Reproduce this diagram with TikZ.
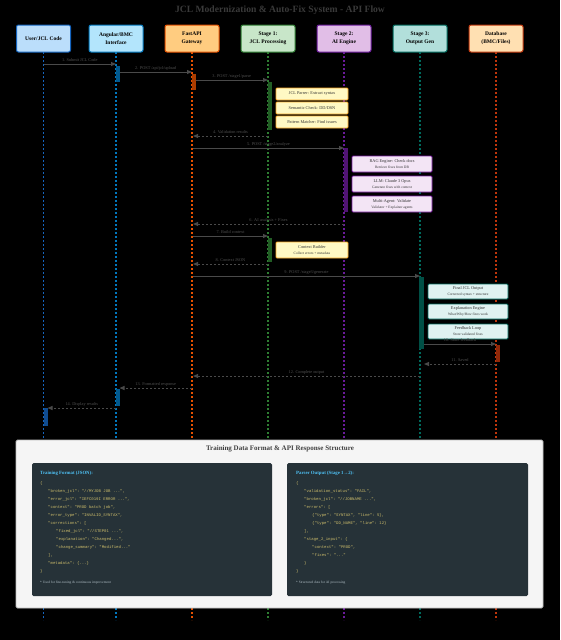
\documentclass[tikz,border=0pt]{standalone}
\usepackage{fontspec}
\setmainfont{Liberation Serif}
\setmonofont{Liberation Mono}
\usetikzlibrary{arrows.meta}
\definecolor{titlegray}{HTML}{3A3A3A}
\definecolor{msggray}{HTML}{4A4A4A}
\definecolor{lblgray}{HTML}{505050}
\definecolor{cU}{HTML}{1565C0}\definecolor{fU}{HTML}{BBDEFB}
\definecolor{cA}{HTML}{0277BD}\definecolor{fA}{HTML}{B3E5FC}
\definecolor{cF}{HTML}{E65100}\definecolor{fF}{HTML}{FFCC80}
\definecolor{cS1}{HTML}{2E7D32}\definecolor{fS1}{HTML}{C8E6C9}
\definecolor{cS2}{HTML}{6A1B9A}\definecolor{fS2}{HTML}{E1BEE7}
\definecolor{cS3}{HTML}{00695C}\definecolor{fS3}{HTML}{B2DFDB}
\definecolor{cD}{HTML}{BF360C}\definecolor{fD}{HTML}{FFE0B2}
\definecolor{nYf}{HTML}{FFF9C4}\definecolor{nYd}{HTML}{F9A825}
\definecolor{nPf}{HTML}{F3E5F5}\definecolor{nPd}{HTML}{7B1FA2}
\definecolor{nTf}{HTML}{E0F2F1}\definecolor{nTd}{HTML}{00695C}
\definecolor{panelf}{HTML}{F5F5F5}\definecolor{paneld}{HTML}{BDBDBD}
\definecolor{codebg}{HTML}{263238}
\definecolor{codecol}{HTML}{CDBD6B}
\definecolor{codetitle}{HTML}{4FC3F7}
\definecolor{codenote}{HTML}{B0BEC5}
\begin{document}
\begin{tikzpicture}[x=1pt,y=-1pt,
  header/.style={draw=#1, line width=1pt, rounded corners=2pt, minimum width=54pt, minimum height=27pt,
    inner sep=1pt, align=center, font=\bfseries\fontsize{5.5}{8}\selectfont, text=black},
  lifeline/.style={draw=#1, line width=1.3pt, dash pattern=on 2pt off 2pt},
  actbar/.style={fill=#1!75!black, draw=none},
  msg/.style={draw=msggray, line width=1pt, -{Triangle[length=5pt,width=4pt]}},
  ret/.style={msg, dash pattern=on 2pt off 2pt},
  mlabel/.style={text=lblgray, font=\fontsize{4.3}{5}\selectfont, inner sep=0pt, anchor=south},
  noteY/.style={draw=nYd, fill=nYf, line width=0.8pt, rounded corners=1pt, minimum width=72pt, align=center, inner sep=1pt, text=black!80, font=\fontsize{4.3}{6}\selectfont},
  noteP/.style={draw=nPd, fill=nPf, line width=0.8pt, rounded corners=1pt, minimum width=80pt, minimum height=16pt, align=center, inner sep=1pt, text=black!80, font=\fontsize{4.3}{6}\selectfont},
  noteT/.style={draw=nTd, fill=nTf, line width=0.8pt, rounded corners=1pt, minimum width=80pt, minimum height=15pt, align=center, inner sep=1pt, text=black!80, font=\fontsize{4.3}{6}\selectfont},
  codeln/.style={anchor=west, inner sep=0pt, text=codecol, font=\ttfamily\fontsize{4}{5}\selectfont},
  codehd/.style={anchor=west, inner sep=0pt, text=codetitle, font=\bfseries\fontsize{4.8}{6}\selectfont},
  codeft/.style={anchor=west, inner sep=0pt, text=codenote, font=\fontsize{3.5}{4}\selectfont},
]
\newcommand{\subln}[1]{{\fontsize{3.6}{6}\selectfont #1}}
\fill[black] (0,0) rectangle (560,640);
\useasboundingbox (0,0) rectangle (560,640);

\node[text=titlegray, font=\bfseries\fontsize{9.6}{11}\selectfont] (title) at (280,10) {JCL Modernization \& Auto-Fix System - API Flow};

% lifelines
\foreach \n/\x in {U/43.5,A/116,F/192,S1/268,S2/344,S3/420,D/496}{
  \coordinate (top\n) at (\x,52);
  \coordinate (bot\n) at (\x,620);
  \draw[lifeline=c\n] (top\n) -- (bot\n);
}

% headers
\node[header=cU, fill=fU] (hU) at (43.5,38.5) {User/JCL Code};
\node[header=cA, fill=fA] (hA) at (116,38.5) {Angular/BMC\\Interface};
\node[header=cF, fill=fF] (hF) at (192,38.5) {FastAPI\\Gateway};
\node[header=cS1, fill=fS1] (hS1) at (268,38.5) {Stage 1:\\JCL Processing};
\node[header=cS2, fill=fS2] (hS2) at (344,38.5) {Stage 2:\\AI Engine};
\node[header=cS3, fill=fS3] (hS3) at (420,38.5) {Stage 3:\\Output Gen};
\node[header=cD, fill=fD] (hD) at (496,38.5) {Database\\(BMC/Files)};

% activation bars
\fill[actbar=cA] (115.5,66) rectangle (119.5,82);
\fill[actbar=cF] (191.5,74) rectangle (195.5,90);
\fill[actbar=cS1] (267.5,82) rectangle (271.5,130);
\fill[actbar=cS2] (343.5,148) rectangle (347.5,212);
\fill[actbar=cS1] (267.5,238) rectangle (271.5,262);
\fill[actbar=cS3] (419,277) rectangle (424,349);
\fill[actbar=cD] (495.5,345) rectangle (499.5,362);
\fill[actbar=cA] (115.5,389) rectangle (119.5,406);
\fill[actbar=cU] (43.5,408) rectangle (47.5,426);

% message endpoints
\coordinate (m1a) at (43.5,64);  \coordinate (m1b) at (116,64);
\coordinate (m2a) at (119.5,72); \coordinate (m2b) at (192,72);
\coordinate (m3a) at (195.5,80); \coordinate (m3b) at (268,80);
\coordinate (m4a) at (268,136);  \coordinate (m4b) at (193,136);
\coordinate (m5a) at (193,148);  \coordinate (m5b) at (344,148);
\coordinate (m6a) at (344,224);  \coordinate (m6b) at (193,224);
\coordinate (m7a) at (193,236);  \coordinate (m7b) at (268,236);
\coordinate (m8a) at (268,264);  \coordinate (m8b) at (193,264);
\coordinate (m9a) at (193,276);  \coordinate (m9b) at (420,276);
\coordinate (m10a) at (424,344); \coordinate (m10b) at (496,344);
\coordinate (m11a) at (496,364); \coordinate (m11b) at (424,364);
\coordinate (m12a) at (420,376); \coordinate (m12b) at (193,376);
\coordinate (m13a) at (192,388); \coordinate (m13b) at (119.5,388);
\coordinate (m14a) at (116,408); \coordinate (m14b) at (47.5,408);

% notes stage 1
\node[noteY, minimum height=12pt] (n1) at (312,94) {JCL Parser: Extract syntax};
\node[noteY, minimum height=12pt] (n2) at (312,108) {Semantic Check: DD/DSN};
\node[noteY, minimum height=12pt] (n3) at (312,122) {Pattern Matcher: Find issues};
% notes stage 2
\node[noteP] (n4) at (392,164) {RAG Engine: Check docs\\\subln{Retrieve fixes from DB}};
\node[noteP] (n5) at (392,184) {LLM: Claude 3 Opus\\\subln{Generate fixes with context}};
\node[noteP] (n6) at (392,204) {Multi-Agent: Validate\\\subln{Validator + Explainer agents}};
% context builder
\node[noteY, minimum height=16pt] (n7) at (312,250) {Context Builder\\\subln{Collect errors + metadata}};
% notes stage 3
\node[noteT] (n8) at (468,291.5) {Final JCL Output\\\subln{Corrected syntax + structure}};
\node[noteT] (n9) at (468,311.5) {Explanation Engine\\\subln{What/Why/How fixes work}};
\node[noteT] (n10) at (468,331.5) {Feedback Loop\\\subln{Store validated fixes}};

% messages
\draw[msg] (m1a) -- node[mlabel, above=1.5pt] {1. Submit JCL Code} (m1b);
\draw[msg] (m2a) -- node[mlabel, above=1.5pt] {2. POST /api/jcl/upload} (m2b);
\draw[msg] (m3a) -- node[mlabel, above=1.5pt] {3. POST /stage1/parse} (m3b);
\draw[ret] (m4a) -- node[mlabel, above=1.5pt] {4. Validation results} (m4b);
\draw[msg] (m5a) -- node[mlabel, above=1.5pt] {5. POST /stage2/analyze} (m5b);
\draw[ret] (m6a) -- node[mlabel, above=1.5pt] {6. AI analysis + Fixes} (m6b);
\draw[msg] (m7a) -- node[mlabel, above=1.5pt] {7. Build context} (m7b);
\draw[ret] (m8a) -- node[mlabel, above=1.5pt] {8. Context JSON} (m8b);
\draw[msg] (m9a) -- node[mlabel, above=1.5pt] {9. POST /stage3/generate} (m9b);
\draw[msg] (m10a) -- node[mlabel, above=1.5pt] {10. Store feedback} (m10b);
\draw[ret] (m11a) -- node[mlabel, above=1.5pt] {11. Saved} (m11b);
\draw[ret] (m12a) -- node[mlabel, above=1.5pt] {12. Complete output} (m12b);
\draw[ret] (m13a) -- node[mlabel, above=1.5pt] {13. Formatted response} (m13b);
\draw[ret] (m14a) -- node[mlabel, above=1.5pt] {14. Display results} (m14b);

% bottom panel
\node[draw=paneld, fill=panelf, line width=0.8pt, rounded corners=1.5pt, minimum width=527pt, minimum height=168pt, inner sep=0pt] (panel) at (279.5,524) {};
\node[text=black!75, font=\bfseries\fontsize{7}{8}\selectfont] (ptitle) at (280,449) {Training Data Format \& API Response Structure};
\node[fill=codebg, rounded corners=1.5pt, minimum width=240pt, minimum height=133pt, inner sep=0pt] (codeL) at (152,529.5) {};
\node[fill=codebg, rounded corners=1.5pt, minimum width=241pt, minimum height=133pt, inner sep=0pt] (codeR) at (407.5,529.5) {};

% left code
\node[codehd] (lh) at (40,473) {Training Format (JSON):};
\node[codeln] (l0) at (40,483) {\{};
\node[codeln] (l1) at (48,491) {"broken\_jcl": "//MYJOB JOB ...",};
\node[codeln] (l2) at (48,499) {"error\_jcl": "IEFC019I ERROR ...",};
\node[codeln] (l3) at (48,507) {"context": "PROD batch job",};
\node[codeln] (l4) at (48,515) {"error\_type": "INVALID\_SYNTAX",};
\node[codeln] (l5) at (48,523) {"corrections": [};
\node[codeln] (l6) at (56,531) {"fixed\_jcl": "//STEP01 ...",};
\node[codeln] (l7) at (56,539) {"explanation": "Changed...",};
\node[codeln] (l8) at (56,547) {"change\_summary": "Modified..."};
\node[codeln] (l9) at (48,555) {],};
\node[codeln] (l10) at (48,563) {"metadata": \{...\}};
\node[codeln] (l11) at (40,571) {\}};
\node[codeft] (lf) at (40,583) {* Used for fine-tuning \& continuous improvement};

% right code
\node[codehd] (rh) at (296,473) {Parser Output (Stage 1→2):};
\node[codeln] (r0) at (296,483) {\{};
\node[codeln] (r1) at (304,491) {"validation\_status": "FAIL",};
\node[codeln] (r2) at (304,499) {"broken\_jcl": "//JOBNAME ...",};
\node[codeln] (r3) at (304,507) {"errors": [};
\node[codeln] (r4) at (312,515) {\{"type": "SYNTAX", "line": 5\},};
\node[codeln] (r5) at (312,523) {\{"type": "DD\_NAME", "line": 12\}};
\node[codeln] (r6) at (304,531) {],};
\node[codeln] (r7) at (304,539) {"stage\_2\_input": \{};
\node[codeln] (r8) at (312,547) {"context": "PROD",};
\node[codeln] (r9) at (312,555) {"fixes": "..."};
\node[codeln] (r10) at (304,563) {\}};
\node[codeln] (r11) at (296,571) {\}};
\node[codeft] (rf) at (296,583) {* Structured data for AI processing};
\end{tikzpicture}
\end{document}
